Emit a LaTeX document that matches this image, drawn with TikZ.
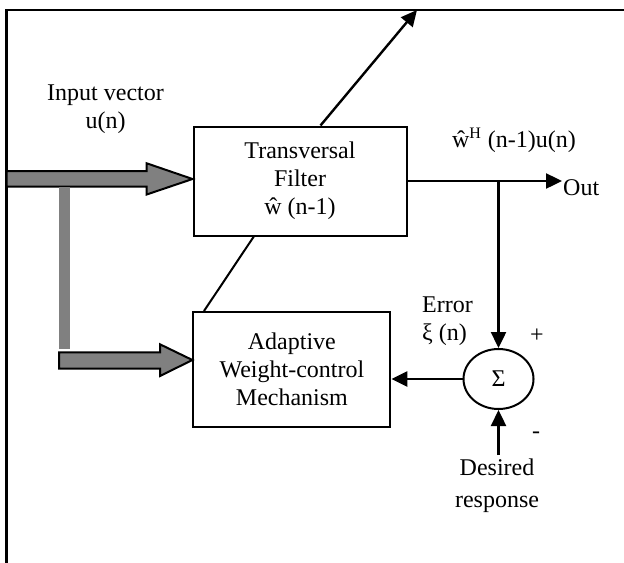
\documentclass[tikz,border=0pt]{standalone}
\usepackage{fontspec}
\setmainfont{Liberation Serif}
\usetikzlibrary{arrows.meta,calc,shapes.geometric}
\definecolor{pipe}{HTML}{808080}
\begin{document}
\begin{tikzpicture}[x=0.5pt,y=-0.5pt,
  font=\fontsize{12}{14}\selectfont, line width=1.2pt,
  blk/.style={draw, rectangle, align=center, inner sep=0pt, line width=1pt},
  sig/.style={draw, ellipse, minimum width=35pt, minimum height=30pt, inner sep=0pt, line width=1pt},
  lbl/.style={align=center, inner sep=0pt},
  flow/.style={-{Triangle[length=8pt,width=7.5pt]}},
  fat/.style={fill=pipe, draw=black, line width=1pt},
]
\useasboundingbox (0,0) rectangle (624,562);

% outer frame (open to the right and bottom)
\draw[line width=1.4pt] (6.5,563) -- (6.5,10) -- (625,10);

% blocks
\node[blk, minimum width=106.5pt, minimum height=54.5pt] (tf) at (300,181)
  {Transversal\\Filter\\ŵ (n-1)};
\node[blk, minimum width=98.5pt, minimum height=57.5pt] (awc) at (291.9,369.5)
  {Adaptive\\Weight-control\\Mechanism};
\node[sig] (sum) at (498.5,379) {Σ};

% labels
\node[lbl] (inp) at (105.5,109) {Input vector\\u(n)};
\node[lbl] (yout) at (514,140) {ŵ\textsuperscript{H} (n-1)u(n)};
\node[lbl, anchor=west] (out) at (562,188) {Out};
\node[lbl, align=left, anchor=west] (err) at (421,321) {Error\\ξ (n)};
\node[lbl] (plus) at (537,336) {+};
\node[lbl] (minus) at (536,435) {-};
\node[lbl, font=\fontsize{12}{16}\selectfont] (des) at (497,486) {Desired\\response};

% fat input arrows
\draw[fat] (6.5,171) -- (146.7,171) -- (146.7,163.3) -- (tf.west |- 0,179)
  -- (146.7,194.5) -- (146.7,186.7) -- (6.5,186.7) -- cycle;
\fill[pipe] (59,186.7) rectangle (70,349.3);
\draw[fat] (59,352.3) -- (160,352.3) -- (160,344.3) -- (awc.west |- 0,360)
  -- (160,376) -- (160,368.7) -- (59,368.7) -- cycle;

% signal paths
\coordinate (top) at (417,10);
\coordinate (jn) at (sum.north |- tf.east);
\coordinate (dfeed) at (sum.south |- 0,455);
\draw[flow] ($(tf.north west)+(128,0)$) -- (top);
\draw[line width=1pt] ($(awc.north west)+(11.6,0)$) -- ($(tf.south west)+(61.3,0)$);
\draw[flow] (tf.east) -- (tf.east -| out.west);
\draw[flow] (jn) -- (sum.north);
\draw[flow] (sum.west) -- (sum.west -| awc.east);
\draw[flow] (dfeed) -- (sum.south);
\end{tikzpicture}
\end{document}
